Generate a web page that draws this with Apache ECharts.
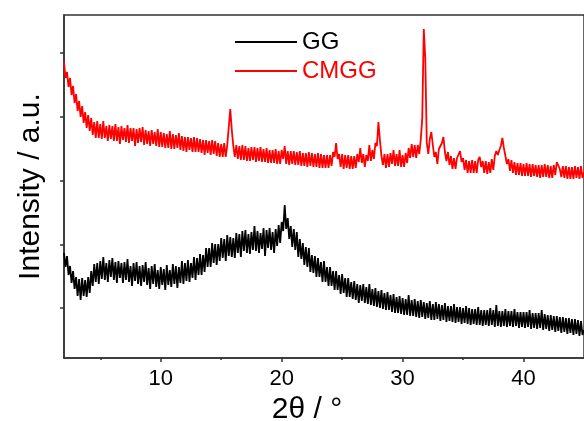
<!DOCTYPE html>
<html><head><meta charset="utf-8">
<script src="https://cdn.jsdelivr.net/npm/echarts@6/dist/echarts.min.js"></script>
<style>html,body{margin:0;padding:0;background:#fff}#c{width:584px;height:421px}</style>
</head><body><div id="c"></div>
<script>
// 2θ scan positions (degrees)
const twoTheta = [
2,2.125,2.25,2.375,2.5,2.625,2.75,2.875, 3,3.125,3.25,3.375,3.5,3.625,3.75,3.875,
4,4.125,4.25,4.375,4.5,4.625,4.75,4.875, 5,5.125,5.25,5.375,5.5,5.625,5.75,5.875,
6,6.125,6.25,6.375,6.5,6.625,6.75,6.875, 7,7.125,7.25,7.375,7.5,7.625,7.75,7.875,
8,8.125,8.25,8.375,8.5,8.625,8.75,8.875, 9,9.125,9.25,9.375,9.5,9.625,9.75,9.875,
10,10.125,10.25,10.375,10.5,10.625,10.75,10.875, 11,11.125,11.25,11.375,11.5,11.625,11.75,11.875,
12,12.125,12.25,12.375,12.5,12.625,12.75,12.875, 13,13.125,13.25,13.375,13.5,13.625,13.75,13.875,
14,14.125,14.25,14.375,14.5,14.625,14.75,14.875, 15,15.125,15.25,15.375,15.5,15.625,15.75,15.875,
16,16.125,16.25,16.375,16.5,16.625,16.75,16.875, 17,17.125,17.25,17.375,17.5,17.625,17.75,17.875,
18,18.125,18.25,18.375,18.5,18.625,18.75,18.875, 19,19.125,19.25,19.375,19.5,19.625,19.75,19.875,
20,20.125,20.25,20.375,20.5,20.625,20.75,20.875, 21,21.125,21.25,21.375,21.5,21.625,21.75,21.875,
22,22.125,22.25,22.375,22.5,22.625,22.75,22.875, 23,23.125,23.25,23.375,23.5,23.625,23.75,23.875,
24,24.125,24.25,24.375,24.5,24.625,24.75,24.875, 25,25.125,25.25,25.375,25.5,25.625,25.75,25.875,
26,26.125,26.25,26.375,26.5,26.625,26.75,26.875, 27,27.125,27.25,27.375,27.5,27.625,27.75,27.875,
28,28.125,28.25,28.375,28.5,28.625,28.75,28.875, 29,29.125,29.25,29.375,29.5,29.625,29.75,29.875,
30,30.125,30.25,30.375,30.5,30.625,30.75,30.875, 31,31.125,31.25,31.375,31.5,31.625,31.75,31.875,
32,32.125,32.25,32.375,32.5,32.625,32.75,32.875, 33,33.125,33.25,33.375,33.5,33.625,33.75,33.875,
34,34.125,34.25,34.375,34.5,34.625,34.75,34.875, 35,35.125,35.25,35.375,35.5,35.625,35.75,35.875,
36,36.125,36.25,36.375,36.5,36.625,36.75,36.875, 37,37.125,37.25,37.375,37.5,37.625,37.75,37.875,
38,38.125,38.25,38.375,38.5,38.625,38.75,38.875, 39,39.125,39.25,39.375,39.5,39.625,39.75,39.875,
40,40.125,40.25,40.375,40.5,40.625,40.75,40.875, 41,41.125,41.25,41.375,41.5,41.625,41.75,41.875,
42,42.125,42.25,42.375,42.5,42.625,42.75,42.875, 43,43.125,43.25,43.375,43.5,43.625,43.75,43.875,
44,44.125,44.25,44.375,44.5,44.625,44.75,44.875, 45
];
// GG intensity (a.u., offset trace)
const gg = [
105,91,102,83,92,75,87,69, 81,62,79,58,80,62,78,61,
81,65,87,72,94,76,95,74, 97,79,101,78,95,76,98,81,
100,78,96,75,97,80,95,75, 96,78,99,76,92,72,95,77,
96,74,92,72,93,76,96,73, 90,69,92,74,94,71,88,69,
91,73,89,68,93,73,88,71, 94,74,92,70,91,75,97,74,
95,77,98,76,95,80,101,78, 100,83,104,83,103,86,110,91,
110,91,115,95,114,93,114,97, 120,100,119,97,123,102,121,101,
120,100,125,105,124,101,127,107, 128,105,124,104,126,108,132,107,
127,105,125,109,130,102,128,110, 130,108,126,105,129,112,133,115,
136,127,153,129,140,119,132,111, 129,108,126,101,119,99,115,93,
111,91,110,86,103,85,102,81, 100,81,96,76,97,76,91,72,
91,72,87,68,87,68,83,64, 84,65,80,61,80,61,76,59,
77,58,74,55,73,57,74,55, 71,54,74,53,69,52,70,51,
67,50,68,49,65,48,66,48, 63,46,64,45,61,45,62,44,
60,43,59,43,63,42,58,42, 59,41,57,40,58,41,56,39,
55,40,57,38,54,38,56,39, 54,37,53,38,55,36,52,37,
52,36,54,35,51,36,51,34, 50,35,52,34,50,33,49,34,
49,33,51,33,48,32,48,33, 48,32,50,33,48,31,53,32,
47,31,47,32,49,31,47,32, 47,31,49,32,46,30,46,31,
46,30,46,31,48,29,45,30, 45,29,45,30,48,28,44,29,
43,27,43,28,42,26,42,27, 41,25,41,26,40,24,40,25,
39,23,39,24,38,22,37,23, 28
];
// CMGG intensity (a.u., offset trace)
const cmgg = [
296,280,286,271,280,263,272,255, 264,247,257,241,252,235,246,230,
243,227,240,223,236,220,237,220, 234,219,237,220,232,217,233,219,
232,217,234,217,231,214,232,218, 230,216,233,215,230,217,230,212,
229,215,230,216,231,213,228,214, 227,212,228,214,226,212,229,211,
226,211,225,210,224,210,227,209, 224,209,223,210,225,208,222,207,
221,206,221,208,220,206,221,206, 220,206,219,205,218,203,218,205,
217,203,218,204,217,202,215,201, 214,201,215,201,213,214,249,228,
212,201,213,199,212,198,213,198, 212,197,210,197,211,198,211,196,
210,197,211,196,209,196,210,195, 208,195,208,195,209,194,207,194,
208,199,212,194,207,193,207,194, 207,193,206,193,207,192,205,192,
205,191,206,192,205,191,204,191, 205,190,204,190,203,190,203,190,
203,192,206,201,215,199,204,191, 204,189,203,190,203,189,202,189,
202,190,204,196,210,195,204,191, 203,197,213,197,208,199,215,212,
236,218,202,193,204,190,204,191, 205,194,208,192,204,192,208,191,
203,191,205,195,210,200,214,201, 213,200,213,204,218,240,329,300,
215,204,219,226,213,201,206,194, 209,208,215,221,206,197,206,193,
202,189,200,189,200,200,207,196, 200,188,198,185,197,185,198,185,
197,185,198,201,191,197,185,197, 184,196,185,199,188,202,207,203,
208,212,220,210,202,194,199,187, 198,185,196,183,195,183,195,182,
194,182,195,182,194,181,194,182, 193,181,193,180,193,181,194,181,
193,180,192,180,193,183,196,197, 189,181,192,180,192,179,191,179,
191,179,192,180,191,179,192,180, 186
];
const xTicks = [10, 20, 30, 40];
const xMinorTicks = [5, 15, 25, 35];
const yTicks = [50, 113.75, 177.5, 241.25, 305];
const seriesNames = ['GG', 'CMGG'];

const FONT = '"Liberation Sans", Arial, sans-serif';
const AX = '#333';
const chart = echarts.init(document.getElementById('c'), null, {renderer: 'canvas'});
chart.setOption({
  animation: false,
  backgroundColor: '#fff',
  grid: {left: 64, top: 15, right: 0, bottom: 63, containLabel: false, outerBoundsMode: 'none',
         show: true, borderColor: AX, borderWidth: 1.5},
  legend: {
    orient: 'vertical', left: 230, top: 25, itemWidth: 62, itemHeight: 2, itemGap: 5, icon: 'rect',
    textStyle: {fontSize: 24, fontFamily: FONT, lineHeight: 22},
    data: [
      {name: seriesNames[0], textStyle: {color: '#000'}},
      {name: seriesNames[1], textStyle: {color: '#ff0000'}}
    ]
  },
  xAxis: [
    {
      type: 'value', min: 2, max: 45, position: 'bottom',
      axisLine: {show: true, onZero: false, lineStyle: {color: AX, width: 1.5}},
      axisTick: {show: true, customValues: xTicks, length: 4, lineStyle: {color: AX, width: 1.5}},
      axisLabel: {customValues: xTicks, fontSize: 22, color: '#000', margin: 10, fontFamily: FONT},
      splitLine: {show: false},
      name: '2θ / °', nameLocation: 'middle', nameGap: 36,
      nameTextStyle: {fontSize: 30, color: '#000', fontFamily: FONT, padding: [0, 34, 0, 0]}
    },
    {
      type: 'value', min: 2, max: 45, position: 'bottom', offset: 0,
      axisLine: {show: false},
      axisTick: {show: true, customValues: xMinorTicks, length: 2, lineStyle: {color: AX, width: 1.5}},
      axisLabel: {show: false},
      splitLine: {show: false}
    }
  ],
  yAxis: {
    type: 'value', min: 0, max: 343,
    axisLine: {show: true, onZero: false, lineStyle: {color: AX, width: 1.5}},
    axisTick: {show: true, customValues: yTicks, length: 4, lineStyle: {color: AX, width: 1.5}},
    axisLabel: {show: false},
    splitLine: {show: false},
    name: 'Intensity / a.u.', nameLocation: 'middle', nameGap: 18, nameRotate: 90,
    nameTextStyle: {fontSize: 30, color: '#000', fontFamily: FONT}
  },
  series: [
    {name: seriesNames[0], type: 'line', xAxisIndex: 0, symbol: 'none', color: '#000',
     lineStyle: {width: 1.8, color: '#000'}, data: twoTheta.map((t, i) => [t, gg[i]])},
    {name: seriesNames[1], type: 'line', xAxisIndex: 0, symbol: 'none', color: '#ff0000',
     lineStyle: {width: 1.8, color: '#ff0000'}, data: twoTheta.map((t, i) => [t, cmgg[i]])}
  ]
});
</script></body></html>
